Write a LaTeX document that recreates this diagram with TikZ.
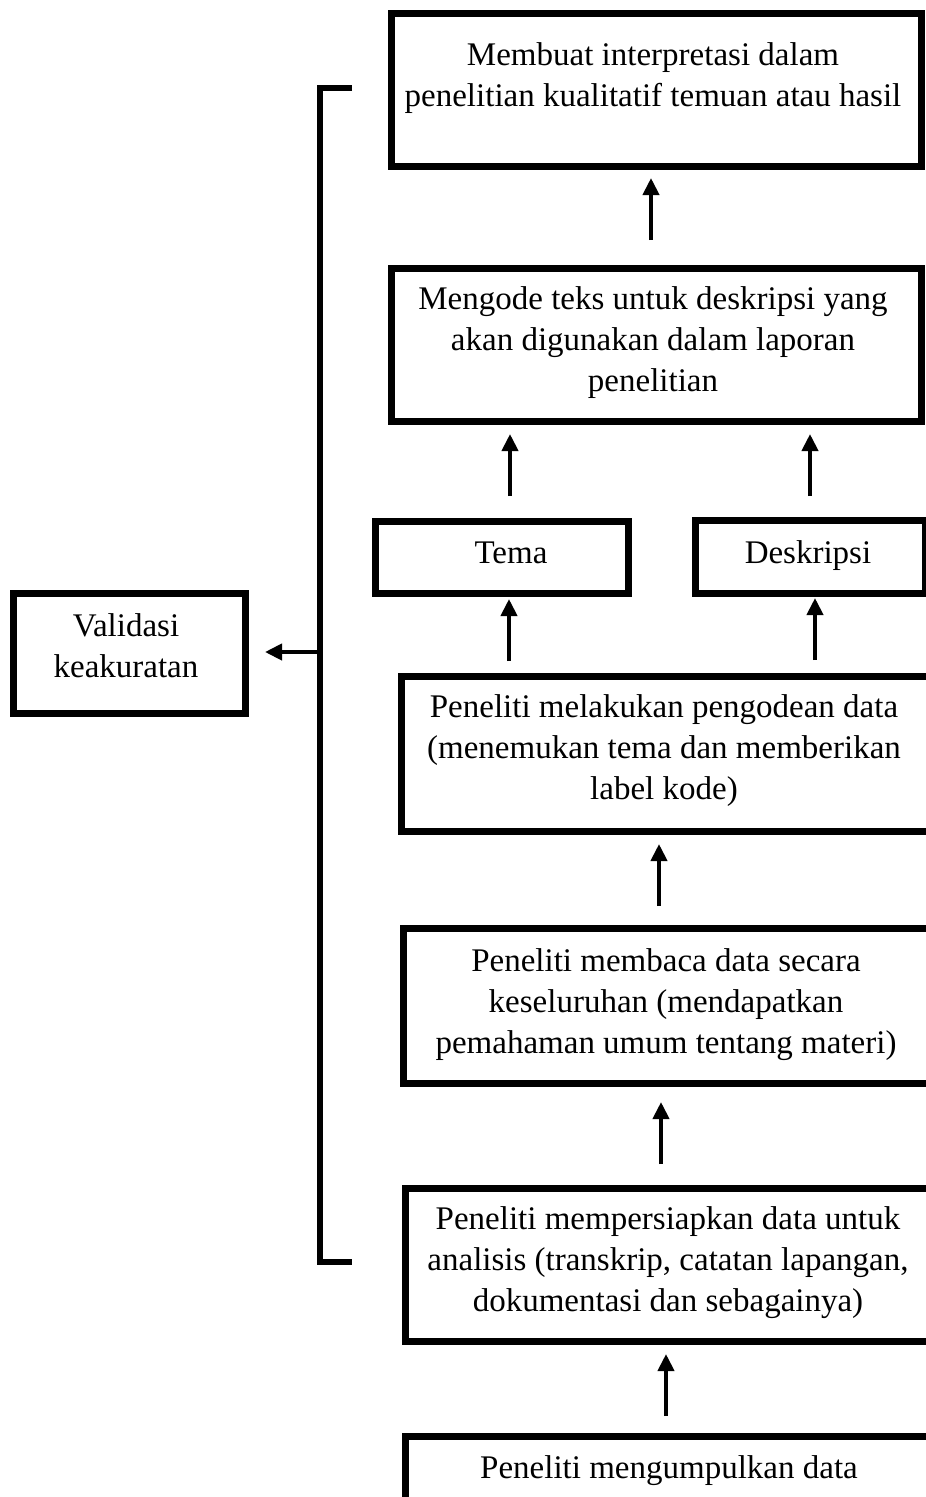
\documentclass[tikz,border=0pt]{standalone}
\usepackage{fontspec}
\setmainfont{Liberation Serif}
\usetikzlibrary{arrows.meta}
\begin{document}
\begin{tikzpicture}[x=1pt,y=-1pt,
  box/.style={draw, line width=6.5pt, inner sep=0pt, anchor=north west},
  txt/.style={align=center, font=\fontsize{33}{41}\selectfont, inner sep=0pt},
  arr/.style={line width=4pt, -{Triangle[width=16pt,length=17pt]}}]
\useasboundingbox (0,0) rectangle (926,1497);
\clip (0,0) rectangle (926,1497);
% boxes
\node[box, minimum width=530pt, minimum height=153pt] (b1) at (388,10) {};
\node[txt] (t1) at (653,78) {Membuat interpretasi dalam\\penelitian kualitatif temuan atau hasil};
\node[box, minimum width=530pt, minimum height=153pt] (b2) at (388,265) {};
\node[txt] (t2) at (653,343) {Mengode teks untuk deskripsi yang\\akan digunakan dalam laporan\\penelitian};
\node[box, minimum width=253pt, minimum height=72pt] (tema) at (372,518) {};
\node[txt, anchor=base] (tt) at (511,563) {Tema};
\node[box, minimum width=230pt, minimum height=73pt] (desk) at (692,517) {};
\node[txt, anchor=base] (td) at (808,563) {Deskripsi};
\node[box, minimum width=540pt, minimum height=155pt] (b3) at (398,673) {};
\node[txt] (t3) at (664,751) {Peneliti melakukan pengodean data\\(menemukan tema dan memberikan\\label kode)};
\node[box, minimum width=540pt, minimum height=155pt] (b4) at (400,925) {};
\node[txt] (t4) at (666,1005) {Peneliti membaca data secara\\keseluruhan (mendapatkan\\pemahaman umum tentang materi)};
\node[box, minimum width=540pt, minimum height=153pt] (b5) at (402,1185) {};
\node[txt] (t5) at (668,1263) {Peneliti mempersiapkan data untuk\\analisis (transkrip, catatan lapangan,\\dokumentasi dan sebagainya)};
\node[box, minimum width=540pt, minimum height=120pt] (b6) at (402,1433) {};
\node[txt] (t6) at (669,1471) {Peneliti mengumpulkan data};
\node[box, minimum width=232pt, minimum height=120pt] (val) at (10,590) {};
\node[txt] (tv) at (126,646) {Validasi\\keakuratan};
% arrows
\coordinate (a1s) at (651,240); \coordinate (a1e) at (651,178);
\draw[arr] (a1s) -- (a1e);
\coordinate (a2s) at (510,496); \coordinate (a2e) at (510,434);
\draw[arr] (a2s) -- (a2e);
\coordinate (a3s) at (810,496); \coordinate (a3e) at (810,434);
\draw[arr] (a3s) -- (a3e);
\coordinate (a4s) at (509,661); \coordinate (a4e) at (509,599);
\draw[arr] (a4s) -- (a4e);
\coordinate (a5s) at (815,660); \coordinate (a5e) at (815,598);
\draw[arr] (a5s) -- (a5e);
\coordinate (a6s) at (659,906); \coordinate (a6e) at (659,844);
\draw[arr] (a6s) -- (a6e);
\coordinate (a7s) at (661,1164); \coordinate (a7e) at (661,1102);
\draw[arr] (a7s) -- (a7e);
\coordinate (a8s) at (666,1416); \coordinate (a8e) at (666,1354);
\draw[arr] (a8s) -- (a8e);
% bracket
\coordinate (bt) at (352,88); \coordinate (bb) at (352,1262);
\draw[line width=6pt] (bt) -- (320,88) -- (320,1262) -- (bb);
\coordinate (bm) at (320,652);
\coordinate (vt) at (265,652);
\draw[arr] (bm) -- (vt);
\end{tikzpicture}
\end{document}
